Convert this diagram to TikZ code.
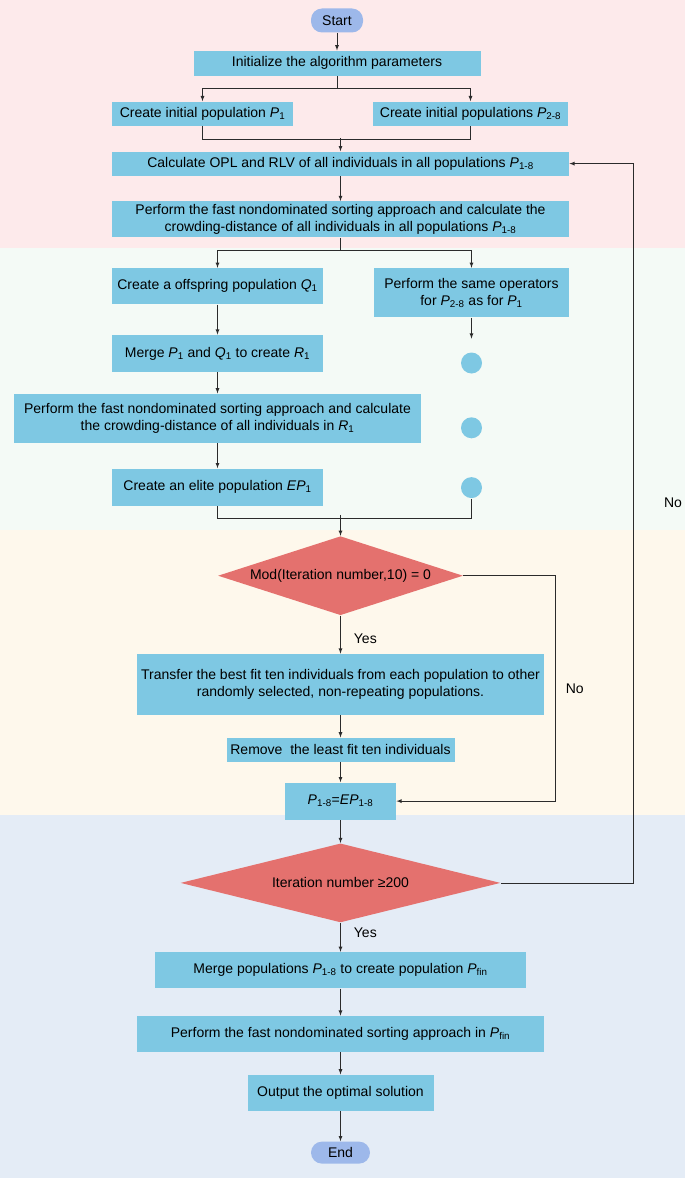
\documentclass[tikz,border=0pt]{standalone}
\usepackage{fontspec}
\setmainfont{Liberation Sans}
\usetikzlibrary{positioning, shapes.geometric, arrows.meta}

\definecolor{boxblue}{HTML}{7EC8E3}
\definecolor{termblue}{HTML}{9DB8EA}
\definecolor{decred}{HTML}{E4716E}
\definecolor{bandpink}{HTML}{FDEAEB}
\definecolor{bandgreen}{HTML}{F4FAF6}
\definecolor{bandcream}{HTML}{FEF8EC}
\definecolor{bandblue}{HTML}{E4ECF6}
\definecolor{linegray}{HTML}{2B2B2B}

\newcommand{\popn}[2]{\textit{#1}\textsubscript{#2}}

\begin{document}
\begin{tikzpicture}[
    x=1pt, y=-1pt,
    font=\fontsize{14}{17}\selectfont,
    line width=0.8pt,
    proc/.style={rectangle, fill=boxblue, align=center, inner sep=0pt},
    term/.style={rectangle, rounded corners=11pt, fill=termblue, inner sep=0pt,
                 minimum height=24pt},
    dec/.style={diamond, fill=decred, inner sep=0pt},
    dot/.style={circle, fill=boxblue, minimum size=21pt, inner sep=0pt},
    lbl/.style={inner sep=0pt},
    link/.style={draw=linegray, -latex},
    ]

   \useasboundingbox (0,0) rectangle (685,1180);

   % Background bands.
   \fill[bandpink] (0,0) rectangle (685,248);
   \fill[bandgreen] (0,248) rectangle (685,530);
   \fill[bandcream] (0,530) rectangle (685,815);
   \fill[bandblue] (0,815) rectangle (685,1178);

   % Initialization.
   \node[term, minimum width=52pt] (start) at (337,20.5) {Start};
   \node[proc, minimum width=287pt, minimum height=25pt, below=17.5pt of start] (init) {Initialize the algorithm parameters};
   \node[proc, minimum width=181pt, minimum height=24pt, below=25pt of init, xshift=-134.5pt] (p1) {Create initial population \popn{P}{1}};
   \node[proc, minimum width=195pt, minimum height=24pt, below=25pt of init, xshift=133.5pt] (pn) {Create initial populations \popn{P}{2-8}};
   \node[proc, minimum width=457pt, minimum height=24pt, below=75pt of init, xshift=3.5pt] (calc) {Calculate OPL and RLV of all individuals in all populations \popn{P}{1-8}};
   \node[proc, minimum width=457pt, minimum height=36pt, below=25pt of calc] (perf) {Perform the fast nondominated sorting approach and calculate the\\crowding-distance of all individuals in all populations \popn{P}{1-8}};

   \draw[link] (start) -- (init);
   \draw[draw=linegray] (init.south) -- ++(0,12) coordinate (b1);
   \draw[link] (b1) -| (p1);
   \draw[link] (b1) -| (pn);
   \draw[draw=linegray] (p1.south) -- ++(0,13) -| (pn.south);
   \draw[link] (calc.north) ++(0,-13) -- (calc.north);
   \draw[link] (calc) -- (perf);

   % Evolution of each population.
   \node[proc, minimum width=211pt, minimum height=36pt, below=30pt of perf, xshift=-123pt] (q1) {Create a offspring population \popn{Q}{1}};
   \node[proc, minimum width=195pt, minimum height=49pt, below=30pt of perf, xshift=131pt] (same) {Perform the same operators\\for \popn{P}{2-8} as for \popn{P}{1}};
   \node[proc, minimum width=211pt, minimum height=37pt, below=30pt of q1] (merge) {Merge \popn{P}{1} and \popn{Q}{1} to create \popn{R}{1}};
   \node[proc, minimum width=407pt, minimum height=49pt, below=21pt of merge] (sort) {Perform the fast nondominated sorting approach and calculate\\the crowding-distance of all individuals in \popn{R}{1}};
   \node[proc, minimum width=211pt, minimum height=37pt, below=25pt of sort] (elite) {Create an elite population \popn{EP}{1}};

   \node[dot, below=34.5pt of same] (c1) {};
   \node[dot, below=43pt of c1] (c2) {};
   \node[dot, below=38pt of c2] (c3) {};

   \draw[draw=linegray] (perf.south) -- ++(0,13) coordinate (b2);
   \draw[link] (b2) -| (q1);
   \draw[link] (b2) -| (same);
   \draw[link] (q1) -- (merge);
   \draw[link] (merge) -- (sort);
   \draw[link] (sort) -- (elite);
   \draw[link, shorten >=13.5pt] (same) -- (c1);
   \draw[draw=linegray] (elite.south) -- ++(0,12) -| (c3.south);

   % Migration.
   \node[dec, aspect=3.1, minimum width=245pt, minimum height=79pt, below=298pt of perf] (d1) {Mod(Iteration number,10) = 0};
   \node[proc, minimum width=407pt, minimum height=61pt, below=38pt of d1] (trans) {Transfer the best fit ten individuals from each population to other\\randomly selected, non-repeating populations.};
   \node[proc, minimum width=228pt, minimum height=24pt, below=22pt of trans] (remove) {Remove\ \ the least fit ten individuals};
   \node[proc, minimum width=111pt, minimum height=37pt, below=20pt of remove] (pep) {\popn{P}{1-8}=\popn{EP}{1-8}};

   \draw[link] (d1.north) ++(0,-21) -- (d1.north);
   \draw[link] (d1) -- node[lbl, pos=0.6, right=13pt] (yes1) {Yes} (trans);
   \draw[link] (trans) -- (remove);
   \draw[link] (remove) -- (pep);
   \draw[link] (d1.east) -- ++(92,0) |- node[lbl, pos=0.25, right=10pt] (no1) {No} (pep.east);

   % Termination.
   \node[dec, aspect=4.05, minimum width=320pt, minimum height=79pt, below=23pt of pep] (d2) {Iteration number ≥200};
   \node[proc, minimum width=371pt, minimum height=36pt, below=29pt of d2] (mpop) {Merge populations \popn{P}{1-8} to create population \popn{P}{fin}};
   \node[proc, minimum width=407pt, minimum height=36pt, below=27pt of mpop] (fin) {Perform the fast nondominated sorting approach in \popn{P}{fin}};
   \node[proc, minimum width=186pt, minimum height=36pt, below=22pt of fin] (out) {Output the optimal solution};
   \node[term, minimum width=59pt, minimum height=22pt, below=30pt of out] (end) {End};

   \draw[link] (pep) -- (d2);
   \draw[link] (d2) -- node[lbl, pos=0.35, right=13pt] (yes2) {Yes} (mpop);
   \draw[link] (mpop) -- (fin);
   \draw[link] (fin) -- (out);
   \draw[link] (out) -- (end);
   \draw[link] (d2.east) -- ++(132,0) |- (calc.east);
   \node[lbl] (no2) at (673,503) {No};

\end{tikzpicture}
\end{document}
